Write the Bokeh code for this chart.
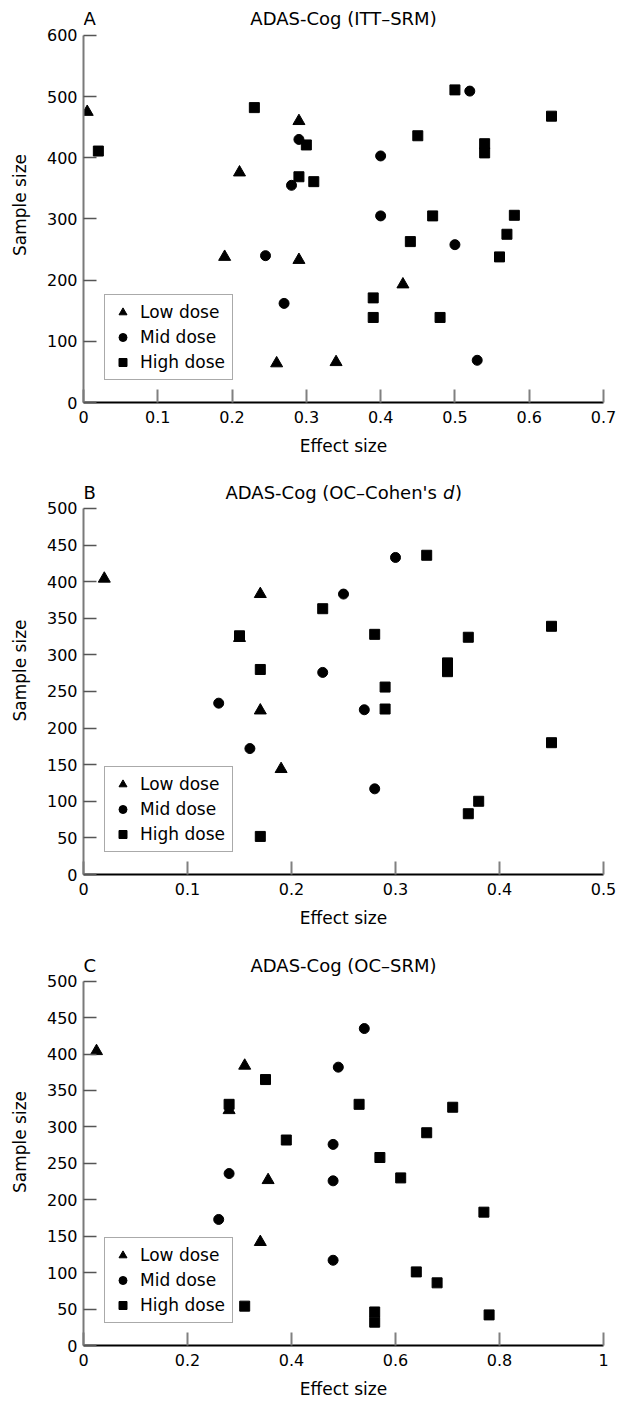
from bokeh.plotting import figure
from bokeh.layouts import column
from bokeh.models import FixedTicker, Legend, LegendItem, Range1d
from bokeh.core.properties import value
from bokeh.embed import file_html
from bokeh.resources import INLINE

FONT = "DejaVu Sans"

# ---------------- data ----------------
legend_labels = ["Low dose", "Mid dose", "High dose"]

# Panel A: ADAS-Cog (ITT-SRM)
A_low_x = [0.005, 0.29, 0.21, 0.19, 0.29, 0.43, 0.26, 0.34]
A_low_y = [475, 460, 376, 238, 233, 193, 64, 66]
A_mid_x = [0.52, 0.29, 0.40, 0.28, 0.40, 0.245, 0.50, 0.27, 0.53]
A_mid_y = [509, 430, 403, 355, 305, 240, 258, 162, 69]
A_high_x = [0.02, 0.23, 0.50, 0.63, 0.45, 0.54, 0.54, 0.30, 0.29, 0.31,
            0.47, 0.58, 0.57, 0.44, 0.56, 0.39, 0.39, 0.48]
A_high_y = [411, 482, 511, 468, 436, 423, 408, 421, 369, 361,
            305, 306, 275, 263, 238, 171, 139, 139]

# Panel B: ADAS-Cog (OC-Cohen's d)
B_low_x = [0.02, 0.17, 0.15, 0.17, 0.19]
B_low_y = [404, 383, 323, 224, 144]
B_mid_x = [0.30, 0.25, 0.23, 0.13, 0.27, 0.16, 0.28]
B_mid_y = [433, 383, 276, 234, 225, 172, 117]
B_high_x = [0.33, 0.23, 0.15, 0.28, 0.37, 0.45, 0.35, 0.35, 0.17, 0.29,
            0.29, 0.45, 0.38, 0.37, 0.17]
B_high_y = [436, 363, 326, 328, 324, 339, 289, 277, 280, 256,
            226, 180, 100, 83, 52]

# Panel C: ADAS-Cog (OC-SRM)
C_low_x = [0.025, 0.31, 0.28, 0.355, 0.34]
C_low_y = [404, 384, 323, 227, 142]
C_mid_x = [0.54, 0.49, 0.48, 0.28, 0.48, 0.26, 0.48]
C_mid_y = [435, 382, 276, 236, 226, 173, 117]
C_high_x = [0.35, 0.28, 0.53, 0.71, 0.39, 0.66, 0.57, 0.61, 0.77, 0.64,
            0.68, 0.31, 0.56, 0.56, 0.78]
C_high_y = [365, 331, 331, 327, 282, 292, 258, 230, 183, 101,
            86, 54, 46, 32, 42]

A_xticks = [0, 0.1, 0.2, 0.3, 0.4, 0.5, 0.6, 0.7]
A_xlabels = ["0", "0.1", "0.2", "0.3", "0.4", "0.5", "0.6", "0.7"]
A_yticks = [0, 100, 200, 300, 400, 500, 600]
B_xticks = [0, 0.1, 0.2, 0.3, 0.4, 0.5]
B_xlabels = ["0", "0.1", "0.2", "0.3", "0.4", "0.5"]
B_yticks = [0, 50, 100, 150, 200, 250, 300, 350, 400, 450, 500]
C_xticks = [0, 0.2, 0.4, 0.6, 0.8, 1.0]
C_xlabels = ["0", "0.2", "0.4", "0.6", "0.8", "1"]
C_yticks = [0, 50, 100, 150, 200, 250, 300, 350, 400, 450, 500]


def make_panel(letter, title_parts, xmax, ymax, xticks, xlabels, yticks, series,
               height, top, bottom, pad_px, title_dy):
    # the frame extends pad_px above the top of the y axis to hold the heading
    frame_h = height - top - bottom
    axis_h = frame_h - pad_px
    y_end = ymax * frame_h / axis_h
    p = figure(width=627, height=height, x_range=Range1d(0, xmax),
               y_range=Range1d(0, y_end),
               output_backend="svg", toolbar_location=None,
               min_border_left=83, min_border_right=24,
               min_border_top=top, min_border_bottom=bottom)
    p.outline_line_color = None
    p.grid.visible = False
    p.background_fill_color = "white"

    for ax in (p.xaxis[0], p.yaxis[0]):
        ax.major_label_text_font = FONT
        ax.major_label_text_font_size = "16px"
        ax.major_label_text_color = "black"
        ax.axis_label_text_font = FONT
        ax.axis_label_text_font_size = "17px"
        ax.axis_label_text_font_style = "normal"
        ax.axis_label_text_color = "black"
        ax.minor_tick_line_color = None
        ax.major_tick_out = 0
        ax.major_tick_in = 13

    p.xaxis.ticker = FixedTicker(ticks=xticks)
    p.xaxis.major_label_overrides = {t: l for t, l in zip(xticks, xlabels)}
    p.xaxis.axis_label = "Effect size"
    p.xaxis.axis_line_color = "black"
    p.xaxis.axis_line_width = 2
    p.xaxis.major_tick_line_color = "#808080"
    p.xaxis.major_tick_line_width = 2
    p.xaxis.major_label_standoff = 8
    p.xaxis.axis_label_standoff = 10

    p.yaxis.ticker = FixedTicker(ticks=yticks)
    p.yaxis.bounds = (0, ymax)
    p.yaxis.axis_label = "Sample size"
    p.yaxis.axis_line_color = "#7a7a7a"
    p.yaxis.axis_line_width = 2
    p.yaxis.major_tick_line_color = "#555555"
    p.yaxis.major_tick_line_width = 1.5
    p.yaxis.major_label_standoff = 6
    p.yaxis.axis_label_standoff = 14

    markers = ["triangle", "circle", "square"]
    sizes = [12, 10, 10]
    items = []
    for (xs, ys), mk, sz, lab in zip(series, markers, sizes, legend_labels):
        r = p.scatter(xs, ys, marker=mk, size=sz, fill_color="black",
                      line_color="black")
        items.append(LegendItem(label=lab, renderers=[r]))

    leg = Legend(items=items, location=(21, 22), margin=0, padding=7,
                 spacing=5, glyph_width=21, glyph_height=20, label_standoff=7,
                 label_text_font=FONT, label_text_font_size="17px",
                 label_text_color="black",
                 border_line_color="#555555", border_line_width=1.5,
                 background_fill_alpha=1.0)
    p.add_layout(leg)

    # panel letter
    p.text(x=[0], y=[ymax], text=[letter], x_offset=0, y_offset=-title_dy,
           text_align="left", text_baseline="middle", text_color="black",
           text_font=value(FONT), text_font_size=value("18px"))
    # heading (pieces: text, x offset from centre, style, align)
    for txt, dx, style, align in title_parts:
        p.text(x=[xmax / 2], y=[ymax], text=[txt], x_offset=dx,
               y_offset=-title_dy, text_align=align, text_baseline="middle",
               text_color="black", text_font=value(FONT),
               text_font_size=value("18px"), text_font_style=style)
    return p


pA = make_panel("A", [("ADAS-Cog (ITT\u2013SRM)", 0, "normal", "center")],
                0.7, 600, A_xticks, A_xlabels, A_yticks,
                [(A_low_x, A_low_y), (A_mid_x, A_mid_y), (A_high_x, A_high_y)],
                458, 7, 55, 28, 17)
pB = make_panel("B", [("ADAS-Cog (OC\u2013Cohen's", -118, "normal", "left"),
                      ("d", 99.5, "italic", "left"),
                      (")", 111.5, "normal", "left")],
                0.5, 500, B_xticks, B_xlabels, B_yticks,
                [(B_low_x, B_low_y), (B_mid_x, B_mid_y), (B_high_x, B_high_y)],
                472, 8, 55, 42, 16)
pC = make_panel("C", [("ADAS-Cog (OC\u2013SRM)", 0, "normal", "center")],
                1.0, 500, C_xticks, C_xlabels, C_yticks,
                [(C_low_x, C_low_y), (C_mid_x, C_mid_y), (C_high_x, C_high_y)],
                471, 8, 53, 43, 16)

layout = column(pA, pB, pC, spacing=0)
open("out.html", "w").write(file_html(layout, INLINE))
